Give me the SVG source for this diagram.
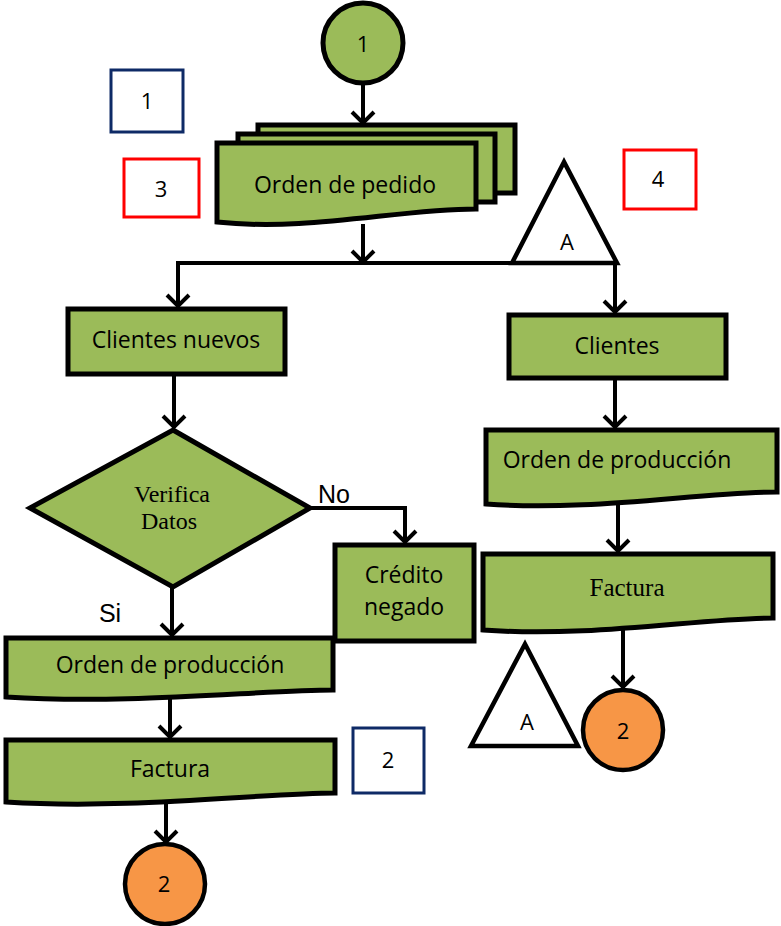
<svg xmlns="http://www.w3.org/2000/svg" width="781" height="926" viewBox="0 0 781 926">
<style>
.g{fill:#9BBB59;stroke:#000;stroke-width:5;stroke-linejoin:miter}
.o{fill:#F79646;stroke:#000;stroke-width:4.5}
.w{fill:#fff;stroke:#000;stroke-width:4.5;stroke-linejoin:miter}
.nb{fill:#fff;stroke:#0E2A66;stroke-width:3}
.rb{fill:#fff;stroke:#FF0000;stroke-width:3}
.t{font-family:"Open Sans","Noto Sans",sans-serif;font-size:23px;fill:#000;text-anchor:middle}
.n{font-family:"Open Sans","Noto Sans",sans-serif;font-size:22px;fill:#000;text-anchor:middle}
.l{font-family:"Liberation Sans",Arial,sans-serif;font-size:25px;fill:#000;text-anchor:middle}
.s{font-family:"Liberation Serif","Times New Roman",serif;font-size:24px;fill:#000;text-anchor:middle}
.c{fill:none;stroke:#000;stroke-width:4}
</style>
<defs>
<marker id="ah" markerUnits="userSpaceOnUse" viewBox="-14 -14 28 28" markerWidth="28" markerHeight="28" refX="0" refY="0" orient="auto">
<path d="M-12,-11 L-1,0 L-12,11" fill="none" stroke="#000" stroke-width="4"/>
</marker>
</defs>

<g id="connectors">
<line class="c" x1="363" y1="84" x2="363" y2="124" marker-end="url(#ah)"/>
<line class="c" x1="363" y1="224" x2="363" y2="263" marker-end="url(#ah)"/>
<line class="c" x1="176" y1="263" x2="617" y2="263"/>
<line class="c" x1="178" y1="261" x2="178" y2="307" marker-end="url(#ah)"/>
<line class="c" x1="615" y1="261" x2="615" y2="313" marker-end="url(#ah)"/>
<line class="c" x1="174" y1="376" x2="174" y2="428" marker-end="url(#ah)"/>
<polyline class="c" points="310,508 405,508 405,543" marker-end="url(#ah)"/>
<line class="c" x1="172" y1="588" x2="172" y2="636" marker-end="url(#ah)"/>
<line class="c" x1="170" y1="698" x2="170" y2="738" marker-end="url(#ah)"/>
<line class="c" x1="166" y1="802" x2="166" y2="843" marker-end="url(#ah)"/>
<line class="c" x1="615" y1="380" x2="615" y2="428" marker-end="url(#ah)"/>
<line class="c" x1="618" y1="504" x2="618" y2="552" marker-end="url(#ah)"/>
<line class="c" x1="623" y1="630" x2="623" y2="688" marker-end="url(#ah)"/>
</g>

<g id="start1">
<circle class="g" cx="363" cy="43" r="40" stroke-width="4.5"/>
<text class="n" x="363" y="52">1</text>
</g>

<g id="label1">
<rect class="nb" x="111" y="70" width="72" height="62"/>
<text class="n" x="147" y="109">1</text>
</g>
<g id="label3">
<rect class="rb" x="124" y="159" width="75" height="58"/>
<text class="n" x="161" y="197">3</text>
</g>
<g id="label4">
<rect class="rb" x="624" y="150" width="72" height="59"/>
<text class="n" x="658" y="187">4</text>
</g>
<g id="label2">
<rect class="nb" x="353" y="728" width="71" height="65"/>
<text class="n" x="388" y="768">2</text>
</g>

<g id="ordenPedido">
<rect class="g" x="258" y="125" width="257" height="68"/>
<rect class="g" x="238" y="134" width="257" height="68"/>
<path class="g" d="M217,143 H476 V209 C398,209 308,232 217,222 Z"/>
<text class="t" x="345" y="193">Orden de pedido</text>
</g>

<g id="triA1">
<polygon class="w" points="564,162 512,263 617,263"/>
<text class="n" x="567" y="250">A</text>
</g>

<g id="clientesNuevos">
<rect class="g" x="68" y="309" width="217" height="65"/>
<text class="t" x="176" y="348">Clientes nuevos</text>
</g>

<g id="verifica">
<polygon class="g" points="173,430 310,508 173,587 30,508"/>
<text class="s" x="172" y="502">Verifica</text>
<text class="s" x="169" y="529">Datos</text>
</g>

<text class="l" x="334" y="503">No</text>
<text class="l" x="110" y="622">Si</text>

<g id="creditoNegado">
<rect class="g" x="335" y="545" width="139" height="96"/>
<text class="t" x="404" y="583">Crédito</text>
<text class="t" x="404" y="615">negado</text>
</g>

<g id="ordenProdL">
<path class="g" d="M6,638 H333 V690 C260,690 130,705 6,697 Z"/>
<text class="t" x="170" y="673">Orden de producción</text>
</g>

<g id="facturaL">
<path class="g" d="M6,740 H335 V793 C262,793 130,810 6,802 Z"/>
<text class="t" x="170" y="777">Factura</text>
</g>

<g id="end2L">
<circle class="o" cx="165" cy="884" r="40"/>
<text class="n" x="164" y="892">2</text>
</g>

<g id="clientes">
<rect class="g" x="509" y="315" width="217" height="63"/>
<text class="t" x="617" y="354">Clientes</text>
</g>

<g id="ordenProdR">
<path class="g" d="M486,430 H777 V492 C700,492 590,512 486,504 Z"/>
<text class="t" x="617" y="468">Orden de producción</text>
</g>

<g id="facturaR">
<path class="g" d="M483,554 H773 V618 C700,618 590,638 483,630 Z"/>
<text class="s" x="627" y="596" style="font-size:25px">Factura</text>
</g>

<g id="triA2">
<polygon class="w" points="525,644 471,746 578,746"/>
<text class="n" x="527" y="730">A</text>
</g>

<g id="end2R">
<circle class="o" cx="623" cy="730" r="40"/>
<text class="n" x="623" y="739">2</text>
</g>
</svg>
